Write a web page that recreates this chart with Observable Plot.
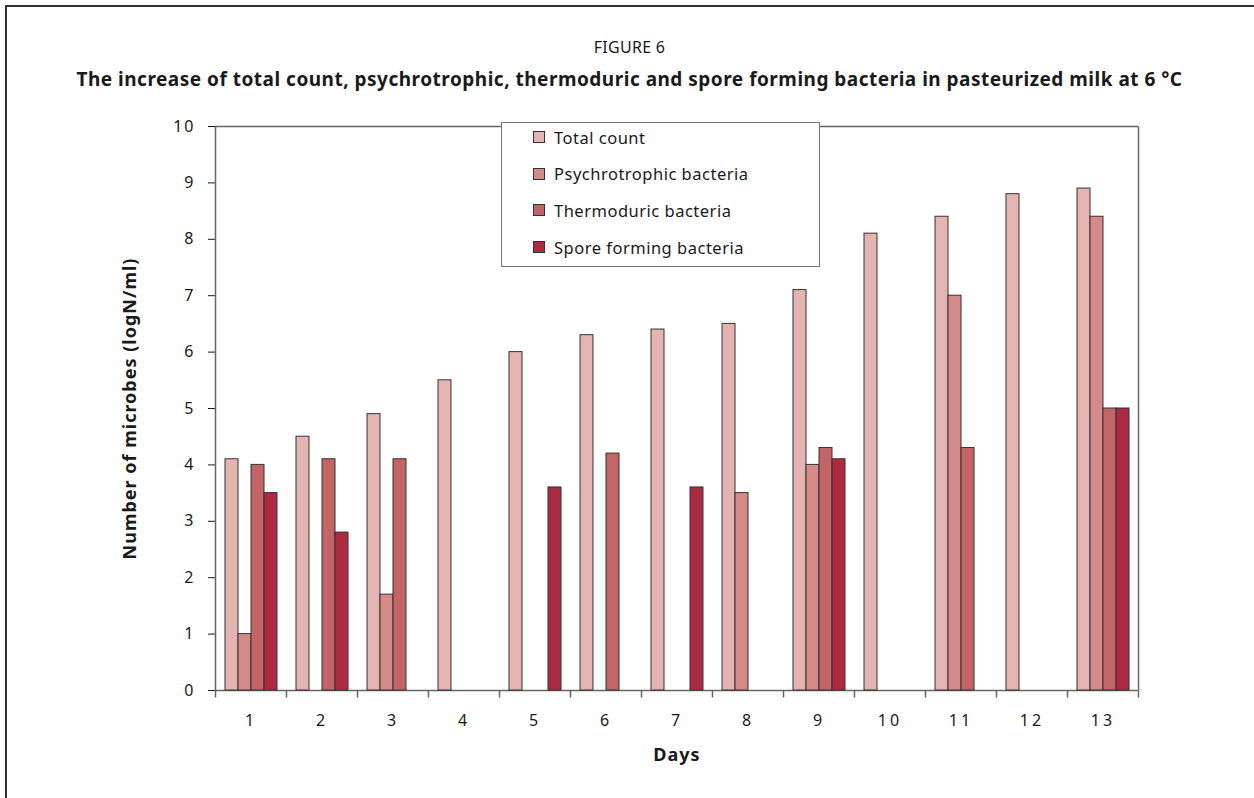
<!DOCTYPE html>
<html><head><meta charset="utf-8">
<script src="https://cdn.jsdelivr.net/npm/d3@7"></script>
<script src="https://cdn.jsdelivr.net/npm/@observablehq/plot@0.6"></script>
<style>
html,body{margin:0;padding:0;background:#fff;}
body{width:1254px;height:798px;position:relative;overflow:hidden;font-family:"Noto Sans",sans-serif;color:#1a1a1a;}
#frame{position:absolute;left:5px;top:5px;width:1270px;height:820px;border-left:2px solid #333;border-top:2px solid #333;}
#fig{position:absolute;left:5px;width:1249px;top:36px;text-align:center;font-size:16px;letter-spacing:0.3px;}
#title{position:absolute;left:5px;width:1249px;top:66px;text-align:center;font-size:19px;letter-spacing:0.5px;font-weight:bold;}
#chart{position:absolute;left:0;top:100px;}
#chart svg text{fill:#1a1a1a;}
#chart g[aria-label="y-axis tick label"] text{letter-spacing:2px;}
#chart g[aria-label="fx-axis tick label"] text{letter-spacing:3px;}
#chart g[aria-label="y-axis label"] text, #chart g[aria-label="fx-axis label"] text{font-weight:bold;font-size:18px;letter-spacing:1px;}
#legend{position:absolute;left:501px;top:122px;width:317px;height:143px;border:1.5px solid #777;background:#fff;box-sizing:content-box;}
#legend .row{position:absolute;left:31px;height:20px;display:flex;align-items:center;font-size:16.5px;letter-spacing:0.5px;}
#legend .sw{width:10px;height:10px;border:1px solid #333;margin-right:9px;}
</style>
</head><body>
<div id="frame"></div>
<div id="fig">FIGURE 6</div>
<div id="title">The increase of total count, psychrotrophic, thermoduric and spore forming bacteria in pasteurized milk at 6 °C</div>
<div id="chart"></div>
<div id="legend"></div>
<script>
const days = [1,2,3,4,5,6,7,8,9,10,11,12,13];
const series = ["Total count","Psychrotrophic bacteria","Thermoduric bacteria","Spore forming bacteria"];
const totalCount     = [4.1,4.5,4.9,5.5,6.0,6.3,6.4,6.5,7.1,8.1,8.4,8.8,8.9];
const psychrotrophic = [1.0,0,1.7,0,0,0,0,3.5,4.0,0,7.0,0,8.4];
const thermoduric    = [4.0,4.1,4.1,0,0,4.2,0,0,4.3,0,4.3,0,5.0];
const sporeForming   = [3.5,2.8,0,0,3.6,0,3.6,0,4.1,0,0,0,5.0];
const colors = ["#e4b4b1","#d48a87","#c36566","#ad2a40"];
const yTicks = [0,1,2,3,4,5,6,7,8,9,10];

const valuesBySeries = [totalCount, psychrotrophic, thermoduric, sporeForming];
const rows = [];
days.forEach((d,i)=>series.forEach((s,j)=>rows.push({day:d, series:s, value:valuesBySeries[j][i]})));

const H = 698, MT = 26, MB = 108;
const plotH = H - MT - MB;
const vline = (len, from) => ({draw(ctx){ctx.moveTo(0,from);ctx.lineTo(0,from+len);}});

const chart = Plot.plot({
  width:1254, height:H,
  marginLeft:215, marginRight:116, marginTop:MT, marginBottom:MB,
  style:{fontFamily:'"Noto Sans",sans-serif', fontSize:"16px", background:"transparent", color:"#1a1a1a"},
  fx:{domain:days, padding:0, axis:"bottom", label:"Days", labelAnchor:"center", labelOffset:70, tickSize:0, tickPadding:24},
  x:{domain:series, paddingInner:0, paddingOuter:0.73, axis:null},
  y:{domain:[0,10], ticks:yTicks, tickFormat:d=>String(d), axis:"left", label:"Number of microbes (logN/ml)", labelAnchor:"center", labelOffset:92, tickSize:7, tickPadding:13, labelArrow:"none"},
  color:{domain:series, range:colors},
  marks:[
    Plot.ruleY([0,10], {stroke:"#666", strokeWidth:1.5}),
    Plot.barY(rows, {fx:"day", x:"series", y:"value", fill:"series", stroke:"#333", strokeWidth:1}),
    Plot.dot([0], {frameAnchor:"bottom-left", symbol:vline(7,0), stroke:"#666", strokeWidth:1.5, fill:"none"}),
    Plot.dot([days[days.length-1]], {fx:d=>d, frameAnchor:"bottom-right", symbol:vline(7,0), stroke:"#666", strokeWidth:1.5, fill:"none"}),
    Plot.dot([days[0]], {fx:d=>d, frameAnchor:"left", symbol:vline(plotH,-plotH/2), stroke:"#666", strokeWidth:1.5, fill:"none"}),
    Plot.dot([days[days.length-1]], {fx:d=>d, frameAnchor:"right", symbol:vline(plotH,-plotH/2), stroke:"#666", strokeWidth:1.5, fill:"none"})
  ]
});
document.getElementById("chart").appendChild(chart);

const legend = document.getElementById("legend");
series.forEach((s,j)=>{
  const r = document.createElement("div");
  r.className = "row";
  r.style.top = (4 + j*36.7) + "px";
  const sw = document.createElement("div");
  sw.className = "sw"; sw.style.background = colors[j];
  const t = document.createElement("span"); t.textContent = s;
  r.appendChild(sw); r.appendChild(t);
  legend.appendChild(r);
});
</script>
</body></html>
